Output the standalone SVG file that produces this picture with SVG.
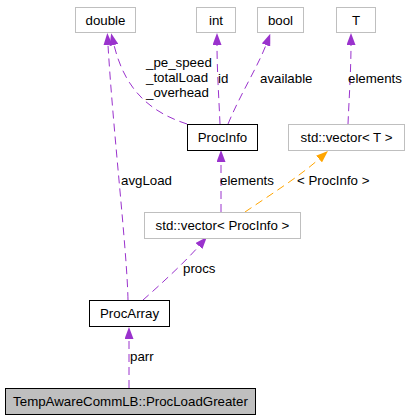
<svg xmlns="http://www.w3.org/2000/svg" width="408" height="419" viewBox="0 0 408 419">
<style>
text{font-family:"Liberation Sans",Arial,sans-serif;font-size:13.3px;fill:#000}
.box{fill:#fff;stroke:#bfbfbf;stroke-width:1}
.solid{fill:#fff;stroke:#000;stroke-width:1}
.main{fill:#bfbfbf;stroke:#000;stroke-width:1}
.c{text-anchor:middle}
.e{fill:none;stroke:#9a32cd;stroke-width:1;stroke-dasharray:8,5;marker-end:url(#ap)}
.t{fill:none;stroke:#ffa500;stroke-width:1;stroke-dasharray:8,5;marker-end:url(#ao)}
</style>
<defs>
<marker id="ap" viewBox="0 0 12 9" refX="0" refY="4.5" markerWidth="12" markerHeight="9" markerUnits="userSpaceOnUse" orient="auto"><path d="M0,0L12,4.5L0,9z" fill="#9a32cd"/></marker>
<marker id="ao" viewBox="0 0 12 9" refX="0" refY="4.5" markerWidth="12" markerHeight="9" markerUnits="userSpaceOnUse" orient="auto"><path d="M0,0L12,4.5L0,9z" fill="#ffa500"/></marker>
</defs>
<rect width="408" height="419" fill="#fff"/>
<g id="edges">
<path class="e" d="M128,300 C127,250 113,130 108,45"/>
<text x="121" y="185">avgLoad</text>
<path class="e" d="M187,124 C150,112 125,90 114,45"/>
<text x="146" y="67">_pe_speed</text>
<text x="146" y="82">_totalLoad</text>
<text x="146" y="97">_overhead</text>
<path class="e" d="M220,124 C219,100 217,70 217,45"/>
<text x="218" y="83">id</text>
<path class="e" d="M228,124 C240,95 258,66 266,45"/>
<text x="260" y="83">available</text>
<path class="e" d="M348,124 C349,100 351,70 351,45"/>
<text x="348" y="83">elements</text>
<path class="e" d="M221,212 L221,162"/>
<text x="220" y="185">elements</text>
<path class="t" d="M245,212 C270,195 300,176 319,159"/>
<text x="297" y="185">&lt; ProcInfo &gt;</text>
<path class="e" d="M143,300 C160,285 185,262 199,246"/>
<text x="183" y="273">procs</text>
<path class="e" d="M129,388 L129,339"/>
<text x="130" y="361">parr</text>
</g>
<g id="double"><rect class="box" x="75.5" y="7.5" width="60" height="25"/><text class="c" x="105.5" y="24.5">double</text></g>
<g id="int"><rect class="box" x="196.5" y="7.5" width="39" height="25"/><text class="c" x="216" y="24.5">int</text></g>
<g id="bool"><rect class="box" x="257.5" y="7.5" width="46" height="25"/><text class="c" x="280.5" y="24.5">bool</text></g>
<g id="T"><rect class="box" x="336.5" y="7.5" width="39" height="25"/><text class="c" x="356" y="24.5">T</text></g>
<g id="ProcInfo"><rect class="solid" x="187.5" y="124.5" width="70" height="26"/><text class="c" x="222.5" y="142">ProcInfo</text></g>
<g id="vectorT"><rect class="box" x="288.5" y="124.5" width="116" height="26"/><text class="c" x="346.5" y="142">std::vector&lt; T &gt;</text></g>
<g id="vectorProcInfo"><rect class="box" x="144.5" y="212.5" width="156" height="26"/><text class="c" x="222.5" y="230">std::vector&lt; ProcInfo &gt;</text></g>
<g id="ProcArray"><rect class="solid" x="89.5" y="300.5" width="80" height="26"/><text class="c" x="129.5" y="318">ProcArray</text></g>
<g id="ProcLoadGreater"><rect class="main" x="5.5" y="388.5" width="250" height="26"/><text class="c" x="130.5" y="406">TempAwareCommLB::ProcLoadGreater</text></g>
</svg>
